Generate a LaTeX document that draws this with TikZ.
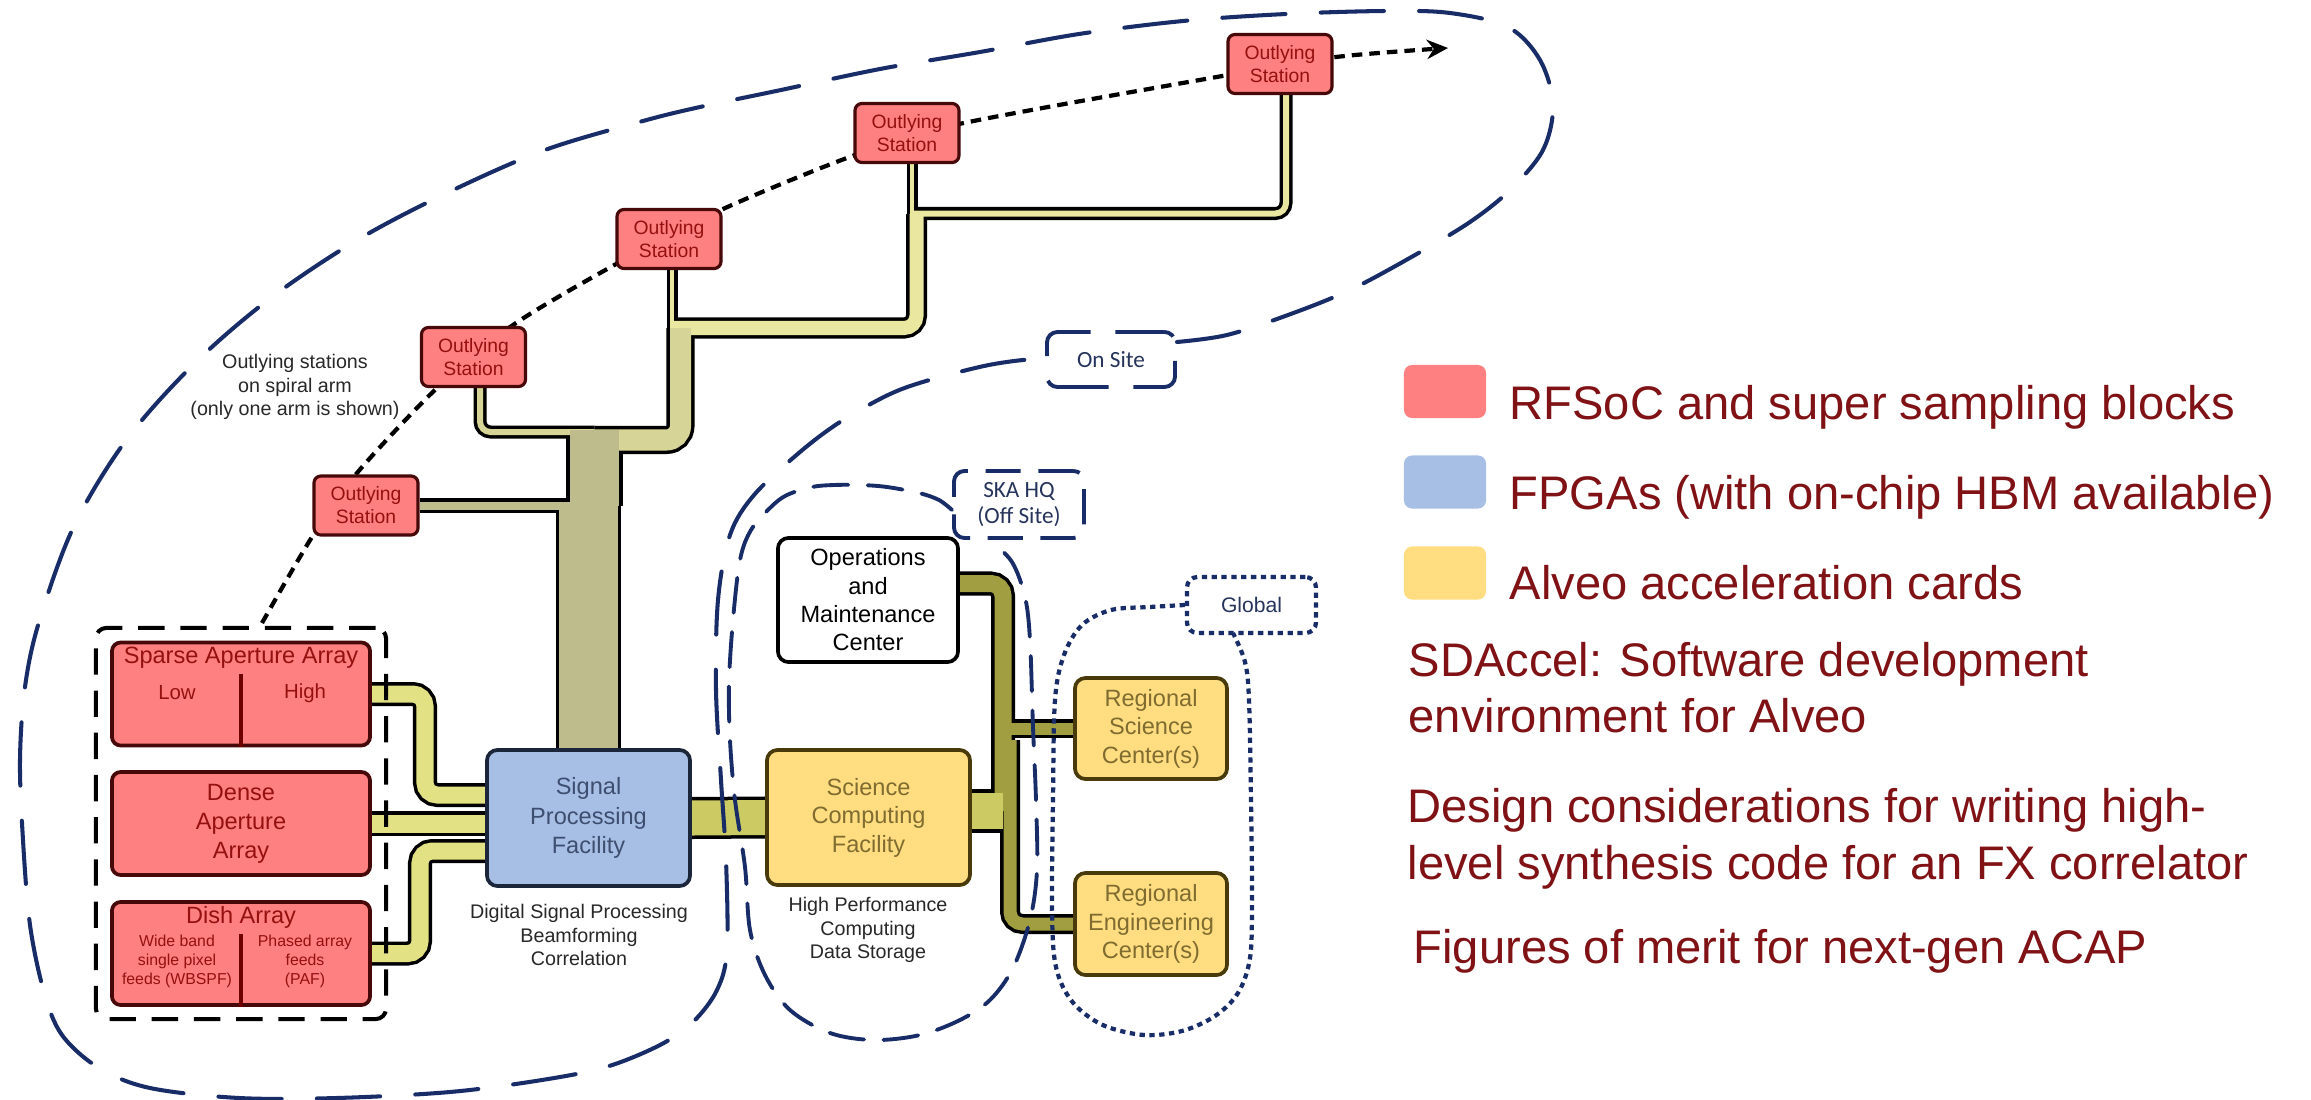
\documentclass[tikz,border=0pt]{standalone}
\usepackage{fontspec}
\setmainfont{Liberation Sans}
\newfontfamily\labelfont{Carlito}
\usetikzlibrary{arrows.meta,calc}

\pgfdeclarelayer{canvas}
\pgfdeclarelayer{behind}
\pgfsetlayers{canvas,behind,main}

\definecolor{navy}{RGB}{24,44,104}
\definecolor{navytext}{RGB}{38,52,92}
\definecolor{legendred}{RGB}{128,18,22}
\definecolor{boxred}{RGB}{255,128,128}
\definecolor{boxblue}{RGB}{167,191,228}
\definecolor{boxyellow}{RGB}{255,221,128}
\definecolor{redtext}{RGB}{150,16,16}
\definecolor{redline}{RGB}{70,8,8}
\definecolor{darkred}{RGB}{110,0,0}
\definecolor{bluetext}{RGB}{62,78,112}
\definecolor{blueline}{RGB}{28,38,58}
\definecolor{goldtext}{RGB}{128,108,48}
\definecolor{goldline}{RGB}{72,58,10}
\definecolor{greytext}{RGB}{40,40,40}
\definecolor{pipeA}{RGB}{234,232,160}
\definecolor{pipeB}{RGB}{214,212,150}
\definecolor{pipeT}{RGB}{190,188,140}
\definecolor{pipeArr}{RGB}{226,226,132}
\definecolor{pipeS}{RGB}{204,202,98}
\definecolor{pipeBus}{RGB}{160,158,64}

% a pipe: black casing first, coloured core on a second pass
\newif\ifpipecasing
\newcommand\skapipe[4]{%
  \ifpipecasing
    \draw[line width=#1*0.2845pt, black, rounded corners=#3] #4;%
  \else
    \draw[line width=(#1-7)*0.2845pt, #2, rounded corners=#3] #4;%
  \fi}

\newcommand\skapipes{%
  % outlying stations along the spiral arm
  \skapipe{11}{pipeA}{2pt}{($(os4.south)+(5,0)$) -- (k4)}
  \skapipe{11}{pipeA}{2pt}{($(os3.south)+(3,0)$) -- (k3)}
  \skapipe{13}{pipeA}{3pt}{($(os5.south)+(6,0)$) |- (m4)}
  \skapipe{13}{pipeB}{3pt}{($(os2.south)+(6.5,0)$) |- (j2)}
  \skapipe{15}{pipeT}{3pt}{(os1.east) -- (os1.east -| tt)}
  \skapipe{21}{pipeA}{3.5pt}{(m45) |- (m3)}
  \skapipe{28}{pipeB}{4pt}{(m345) |- (tj)}
  \skapipe{56}{pipeT}{4pt}{(tt) -- (tt |- os1.east)}
  \skapipe{65}{pipeT}{4pt}{(spf.north) -- (spf.north |- os1.east)}
  % receptor arrays into the signal processing facility
  \skapipe{24}{pipeArr}{3.5pt}{(sparse.east) -| (jS) -- (jS -| spf.west)}
  \skapipe{25}{pipeArr}{3.5pt}{(dense.east) -- (dense.east -| spf.west)}
  \skapipe{24}{pipeArr}{3.5pt}{(dish.east) -| (jD) -- (jD -| spf.west)}
  % science computing and the regional centres
  \skapipe{19}{pipeBus}{3pt}{(bq) -- (rsc.west)}
  \skapipe{20}{pipeBus}{3.5pt}{(bl) |- (rec.west)}
  \skapipe{24}{pipeBus}{3.5pt}{(bo -| ops.east) -- (bo) -- (bs)}
  \skapipe{42}{pipeS}{3pt}{(spf.east) -- (scf.west)}
  \skapipe{43}{pipeS}{3pt}{(bs -| scf.east) -- (bs)}
}

\tikzset{
  every node/.style={inner sep=0pt},
  station/.style={draw=redline, line width=0.9pt, fill=boxred, rounded corners=2pt,
    minimum width=1.04cm, minimum height=0.59cm, align=center, text=redtext,
    font=\fontsize{5.5}{6.5}\selectfont},
  arraybox/.style={draw=redline, line width=1.05pt, fill=boxred, rounded corners=2.5pt,
    minimum width=2.58cm, minimum height=1.03cm, align=center, text=redtext,
    font=\fontsize{6.7}{8.2}\selectfont},
  arraytext/.style={text=redtext, font=\fontsize{6.7}{8.2}\selectfont},
  subtext/.style={text=redtext, font=\fontsize{5.8}{7}\selectfont},
  tinytext/.style={align=center, text=redtext, font=\fontsize{4.5}{5.4}\selectfont},
  divider/.style={draw=darkred, line width=1.1pt},
  fpga/.style={draw=blueline, line width=1.05pt, fill=boxblue, rounded corners=3pt,
    align=center, text=bluetext, font=\fontsize{6.7}{8.3}\selectfont},
  alveo/.style={draw=goldline, line width=1.05pt, fill=boxyellow, rounded corners=3pt,
    align=center, text=goldtext, font=\fontsize{6.7}{8.1}\selectfont},
  plainbox/.style={draw=black, line width=1.05pt, fill=white, rounded corners=3pt,
    align=center, text=black, font=\fontsize{6.7}{8.05}\selectfont},
  caption/.style={align=center, text=greytext, font=\fontsize{5.6}{6.7}\selectfont},
  sitelabel/.style={align=center, text=navytext, font=\labelfont\fontsize{6.6}{7.4}\selectfont},
  legsq/.style={minimum width=0.82cm, minimum height=0.53cm, rounded corners=2.3pt},
  legtext/.style={anchor=base west, text=legendred, font=\fontsize{13.4}{16}\selectfont},
  onsiteline/.style={draw=navy, line width=1.15pt, dash pattern=on 18pt off 10pt, line cap=round},
  hqline/.style={draw=navy, line width=1.1pt, dash pattern=on 10pt off 5.5pt, line cap=round},
  globalline/.style={draw=navy, line width=1.2pt, dash pattern=on 1.5pt off 1.3pt},
  groupline/.style={draw=black, line width=1.15pt, dash pattern=on 7.5pt off 4.5pt},
  armline/.style={draw=black, line width=1.2pt, dash pattern=on 3pt off 2pt},
}

\begin{document}
\begin{tikzpicture}[x=0.01cm, y=-0.01cm]
\begin{pgfonlayer}{canvas}
  \fill[white] (0,0) rectangle (2311,1100);
\end{pgfonlayer}
\useasboundingbox (0,0) rectangle (2311,1100);

% ---------- outlying stations ----------
\node[station] (os1) at (366,505.5) {Outlying\\Station};
\node[station] (os2) at (473.5,357) {Outlying\\Station};
\node[station] (os3) at (669,239) {Outlying\\Station};
\node[station] (os4) at (907,133) {Outlying\\Station};
\node[station] (os5) at (1280,64) {Outlying\\Station};
\node[caption, text=greytext] (armcap) at (295,387)
  {Outlying stations\\on spiral arm\\(only one arm is shown)};

% ---------- receptor arrays ----------
\node[groupline, rounded corners=3pt, minimum width=2.9cm, minimum height=3.91cm] (arrays) at (241,823.5) {};
\node[arraybox] (sparse) at (241,694) {};
\node[arraytext] (sparseT) at (241,658) {Sparse Aperture Array};
\node[subtext] (sparseL) at (177,693) {Low};
\node[subtext] (sparseH) at (305,693) {High};
\draw[divider] (sparse.south) -- ++(0,-73);

\node[arraybox] (dense) at (241,823.5) {Dense\\Aperture\\Array};

\node[arraybox] (dish) at (241,953.5) {};
\node[arraytext] (dishT) at (241,917) {Dish Array};
\node[tinytext] (dishL) at (177,961) {Wide band\\single pixel\\feeds (WBSPF)};
\node[tinytext] (dishR) at (305,961) {Phased array\\feeds\\(PAF)};
\draw[divider] (dish.south) -- ++(0,-73);

% ---------- facilities ----------
\node[fpga, minimum width=2.03cm, minimum height=1.36cm] (spf) at (588.5,818) {Signal\\Processing\\Facility};
\node[caption] (spfcap) at (579,935) {Digital Signal Processing\\Beamforming\\Correlation};
\node[plainbox, minimum width=1.8cm, minimum height=1.24cm] (ops) at (868,600) {Operations\\and\\Maintenance\\Center};
\node[alveo, minimum width=2.03cm, minimum height=1.35cm] (scf) at (868.5,817.5) {Science\\Computing\\Facility};
\node[caption] (scfcap) at (868,930) {High Performance\\Computing\\Data Storage};
\node[alveo, minimum width=1.52cm, minimum height=1.01cm] (rsc) at (1151,728.5) {Regional\\Science\\Center(s)};
\node[alveo, minimum width=1.52cm, minimum height=1.02cm] (rec) at (1151,924) {Regional\\Engineering\\Center(s)};

% ---------- pipe junctions ----------
\coordinate (k4) at (912,225);
\coordinate (m4) at (912,213.5);
\coordinate (m45) at (916.5,214);
\coordinate (k3) at (672,335);
\coordinate (m3) at (672,328);
\coordinate (m345) at (680.5,328);
\coordinate (tj) at (594.5,440);
\coordinate (j2) at (594.5,432);
\coordinate (tt) at (594.5,430);
\coordinate (jS) at (425,795);
\coordinate (jD) at (420,851);
\coordinate (bo) at (1003,583.5);
\coordinate (bs) at (1003,811);
\coordinate (bq) at (1003,728.5);
\coordinate (bl) at (1010,740);

\begin{pgfonlayer}{behind}
  % spiral arm through the stations
  \draw[armline, -{Stealth[length=6pt,width=5.5pt]}]
    plot[smooth, tension=0.5] coordinates {(262,623) (312,537) (357,473) (440,385) (513,325)
      (618,263) (723,209) (855,155) (959,124) (1228,75) (1336,57) (1448,48)};
  \pipecasingtrue \skapipes
  \pipecasingfalse \skapipes
\end{pgfonlayer}

% ---------- site boundaries ----------
\node[sitelabel, draw=navy, line width=1.1pt, dash pattern=on 18pt off 7pt, dash phase=4pt,
  rounded corners=3pt, minimum width=1.28cm, minimum height=0.55cm] (onsite) at (1111,359.5) {On Site};
\node[sitelabel, draw=navy, line width=1.1pt, dash pattern=on 10pt off 5pt,
  rounded corners=3pt, minimum width=1.3cm, minimum height=0.67cm] (hq) at (1019,504.5) {SKA HQ\\(Off Site)};
\node[globalline, text=navytext, font=\fontsize{6}{7}\selectfont, rounded corners=3pt,
  minimum width=1.29cm, minimum height=0.56cm] (global) at (1251.5,605) {Global};

\draw[onsiteline] plot[smooth, tension=0.55] coordinates {(1177,342) (1227,335) (1288,315)
  (1350,290) (1415,255) (1470,222) (1510,190) (1543,150) (1553,105) (1540,60) (1508,27)
  (1450,13) (1386,11) (1286,14) (1183,21) (1079,34) (980,52) (880,69) (781,90) (700,107)
  (643,121) (545,150) (449,192) (359,239) (272,297) (196,362) (127,439) (74,526) (39,622)
  (25,687) (20,760) (23,840) (30,925) (44,992) (62,1035) (99,1068) (150,1088) (239,1098)
  (337,1098) (450,1092) (542,1080) (606,1067) (660,1045) (693,1022) (717,990) (727,950)
  (726,860) (721,780) (716,690) (718,600) (730,535) (754,495) (800,452) (840,422)
  (888,395) (926,381) (984,366) (1023,360) (onsite.west)};

\draw[hqline] plot[smooth, tension=0.55] coordinates {(hq.west |- 0,510) (939,500) (919,493)
  (887,487) (861,485) (834,485) (812,487) (787,495) (771,507) (751,530) (740,560) (733,620)
  (729,683) (730,740) (735,800) (745,867) (750,930) (765,975) (790,1010) (830,1033)
  (874,1040) (920,1035) (960,1020) (990,1000) (1013,968) (1030,920) (1037,870) (1036,800)
  (1033,727) (1030,640) (1025,597) (1012,562) (990,540)};

\draw[globalline] plot[smooth, tension=0.55] coordinates {(global.west) (1150,607)
  (1111,610) (1082,625) (1064,655) (1055,700) (1053,800) (1052,900) (1054,955) (1062,985)
  (1078,1008) (1105,1026) (1144,1035) (1182,1031) (1215,1016) (1238,993) (1250,958)
  (1252,900) (1251,800) (1249,700) (1245,662) (1233,633)};

% ---------- key ----------
\node[legsq, fill=boxred] (keyrf) at (1445,391.5) {};
\node[legsq, fill=boxblue] (keyfpga) at (1445,482) {};
\node[legsq, fill=boxyellow] (keyalveo) at (1445,573) {};
\node[legtext] (t1) at (1509,419) {RFSoC and super sampling blocks};
\node[legtext] (t2) at (1509,509) {FPGAs (with on-chip HBM available)};
\node[legtext] (t3) at (1509,599) {Alveo acceleration cards};
\node[legtext] (t4) at (1408,676) {SDAccel: Software development};
\node[legtext] (t5) at (1408,732.5) {environment for Alveo};
\node[legtext] (t6) at (1407,822.6) {Design considerations for writing high-};
\node[legtext] (t7) at (1407,879) {level synthesis code for an FX correlator};
\node[legtext] (t8) at (1413,963) {Figures of merit for next-gen ACAP};
\end{tikzpicture}
\end{document}
